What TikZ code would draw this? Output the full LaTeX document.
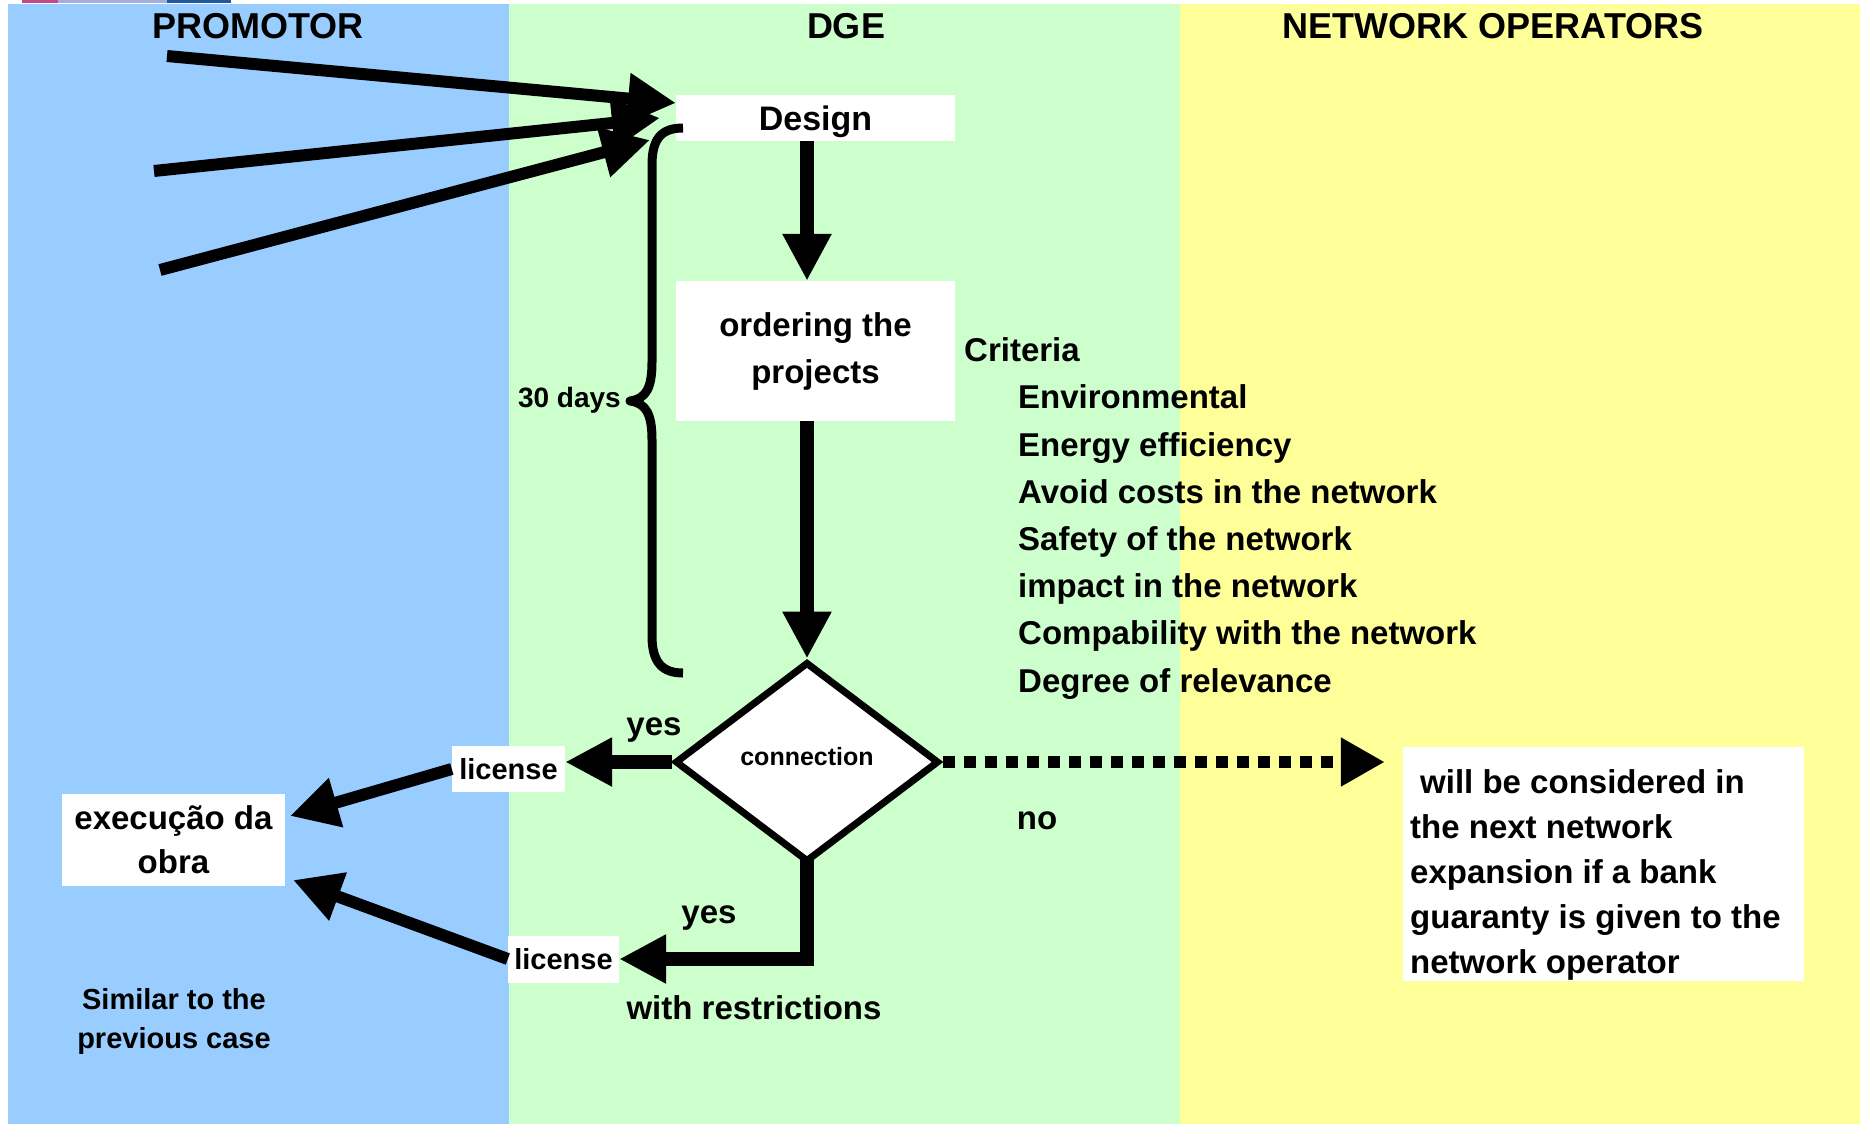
\documentclass[tikz,border=0pt]{standalone}
\usepackage{fontspec}
\setmainfont{Liberation Sans}
\usetikzlibrary{shapes.geometric,arrows.meta}
\definecolor{cblue}{HTML}{99CCFF}
\definecolor{cgreen}{HTML}{CCFFCC}
\definecolor{cyellow}{HTML}{FFFF99}
\definecolor{logoA}{HTML}{C04A8A}
\definecolor{logoB}{HTML}{A3AEDC}
\definecolor{logoC}{HTML}{1F5A9E}
\newcommand\myfs[2]{\fontsize{#1}{#2}\selectfont}
\begin{document}
\begin{tikzpicture}[x=1pt,y=-1pt,
  box/.style={fill=white, draw=none, inner sep=0pt, align=center},
  lbl/.style={inner sep=0pt, text depth=0pt},
  hdr/.style={lbl, text height=26pt, font=\bfseries\myfs{36}{42}},
  body/.style={lbl, text height=23.6pt, font=\bfseries\myfs{33}{40}},
  lic/.style={box, lbl, text height=20.8pt, font=\bfseries\myfs{29}{34}},
  arr/.style={line width=14pt, -{Triangle[length=47pt,width=46pt]}},
  arrtwo/.style={line width=12pt, -{Triangle[length=48pt,width=48pt]}},
  dotarr/.style={line width=12pt, dash pattern=on 12pt off 9pt, -{Triangle[length=44pt,width=46pt]}},
  bracestyle/.style={line width=9pt, line join=round}
]
\useasboundingbox (0,0) rectangle (1860,1124);
\fill[white] (0,0) rectangle (1860,1124);
% lanes
\fill[cblue] (8,4) rectangle (509,1124);
\fill[cgreen] (509,4) rectangle (1180,1124);
\fill[cyellow] (1180,4) rectangle (1860,1124);
% logo sliver
\fill[logoA] (22,0) rectangle (58,3);
\fill[logoB] (58,0) rectangle (167,3);
\fill[logoC] (167,0) rectangle (231,3);

% headers
\node[hdr] (hprom) at (258,26) {PROMOTOR};
\node[hdr] (hdge) at (846,26) {DGE};
\node[hdr] (hnet) at (1493,26) {NETWORK OPERATORS};

% main boxes
\node[box, lbl, text height=24.3pt, minimum width=279pt, minimum height=46pt, font=\bfseries\myfs{34}{40}] (design) at (815.5,118) {Design};
\node[box, minimum width=279pt, minimum height=140pt, font=\bfseries\myfs{33}{47}] (order) at (815.5,351) {ordering the\\projects};
\node[diamond, draw, line width=7pt, fill=white, inner sep=0pt, minimum width=264pt, minimum height=200pt] (dia) at (807,762) {};
\node[lbl, text height=18pt, font=\bfseries\myfs{25}{30}] (conn) at ([yshift=6pt]dia.center) {connection};

\node[lic, minimum width=113pt, minimum height=46pt] (lic1) at (508.5,769) {license};
\node[lic, minimum width=111pt, minimum height=47pt] (lic2) at (563.5,959) {license};
\node[box, minimum width=223pt, minimum height=92pt, font=\bfseries\myfs{33}{44}] (exec) at (173.5,840) {execução da\\obra};
\node[box, minimum width=401pt, minimum height=234pt] (nobox) at (1603.5,864) {};
\node[inner sep=0pt, anchor=west, align=left, font=\bfseries\myfs{33}{45}] (notext) at (1410,875) {\hspace*{10pt}will be considered in\\the next network\\expansion if a bank\\guaranty is given to the\\network operator};

% labels
\node[body] (yes1) at (654,724) {yes};
\node[body] (yes2) at (709,912) {yes};
\node[body] (no) at (1037,818) {no};
\node[body] (restr) at (754,1008) {with restrictions};
\node[lbl, text height=20pt, anchor=east, font=\bfseries\myfs{28}{32}] (days) at (621,397) {30 days};
\node[inner sep=0pt, align=center, font=\bfseries\myfs{29}{39}] (similar) at (174,1021) {Similar to the\\previous case};

% criteria
\node[body, anchor=west] (crit) at (964,350) {Criteria};
\foreach \t [count=\i] in {Environmental,Energy efficiency,Avoid costs in the network,Safety of the network,impact in the network,Compability with the network,Degree of relevance}
  \node[body, anchor=west] (c\i) at (1018,{397+47.2*(\i-1)}) {\t};

% brace
\draw[bracestyle] (683,128) .. controls (662,128) and (652,138) .. (652,165)
  -- (652,362) .. controls (652,388) and (646,399) .. (630,401)
  .. controls (646,403) and (652,414) .. (652,440)
  -- (652,636) .. controls (652,662) and (662,673) .. (683,673);

% connectors
\draw[arr] (dia.north |- design.south) -- (dia.north |- order.north);
\draw[arr] (dia.north |- order.south) -- (dia.north);
\draw[arr] (dia.west) -- (dia.west -| lic1.east);
\coordinate (corner) at (dia.south |- lic2.east);
\draw[line width=14pt, line cap=rect] (dia.south) -- (corner);
\draw[arr] (corner) -- (lic2.east);
\draw[dotarr, shorten >=18pt] (dia.east) -- (dia.east -| nobox.west);

\coordinate (t1) at (290,816);
\coordinate (t2) at (293,880);
\draw[arrtwo] (lic1.west) -- (t1);
\draw[arrtwo] (lic2.west) -- (t2);

\coordinate (s1) at (167,56);
\coordinate (s2) at (154,171);
\coordinate (s3) at (160,270);
\coordinate (e1) at (676,103);
\coordinate (e2) at (660,118);
\coordinate (e3) at (650,140);
\draw[arrtwo] (s1) -- (e1);
\draw[arrtwo] (s2) -- (e2);
\draw[arrtwo] (s3) -- (e3);
\end{tikzpicture}
\end{document}
